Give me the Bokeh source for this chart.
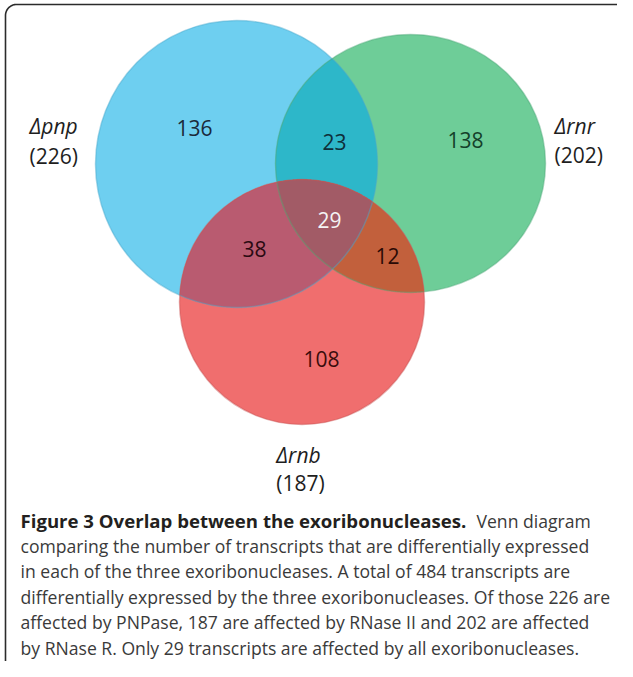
import numpy as np
from bokeh.plotting import figure
from bokeh.models import Range1d
from bokeh.embed import file_html
from bokeh.resources import INLINE
from bokeh.core.properties import value

# ---------------- data ----------------
set_names = ["Δpnp", "Δrnr", "Δrnb"]
set_totals = [226, 202, 187]
# regions: members as indices into set_names, with their counts
region_members = [(0,), (1,), (2,), (0, 1), (0, 2), (1, 2), (0, 1, 2)]
region_counts = [136, 138, 108, 23, 38, 12, 29]

# ---------------- layout / style ----------------
circle_cx = [244, 418, 309.5]
circle_cy = [171.5, 171, 309.5]
circle_w = [282, 270, 245]
circle_h = [287, 258, 245]
set_colors = ["#6ECFF0", "#6ECD98", "#F06E6E"]
edge_colors = ["#4AA9CC", "#4FA97A", "#C85555"]
overlap_colors = {(0, 1): "#2DB7C9", (0, 2): "#B95B70", (1, 2): "#C2603C", (0, 1, 2): "#A25B66"}

region_lx = [202, 473, 329, 342, 262, 395, 337]
region_ly = [135, 147, 366, 149, 256, 263, 227]
region_tc = ["#1B2A3A", "#14402A", "#3A0C0C", "#0E2F3A", "#2A0A12", "#2A0A05", "#F4F4F4"]

name_x = [37, 562, 306]
name_y = [133, 133, 462]
total_x = [37, 562, 308]
total_y = [163, 162, 490]
name_align = ["left", "left", "center"]

FONT = value("Open Sans")

total_all = sum(region_counts)
caption_bold = "Figure 3 Overlap between the exoribonucleases."
caption_lines = [
    "Venn diagram",
    "comparing the number of transcripts that are differentially expressed",
    f"in each of the three exoribonucleases. A total of {total_all} transcripts are",
    f"differentially expressed by the three exoribonucleases. Of those {set_totals[0]} are",
    f"affected by PNPase, {set_totals[2]} are affected by RNase II and {set_totals[1]} are affected",
    f"by RNase R. Only {region_counts[6]} transcripts are affected by all exoribonucleases.",
]
caption_x = [484, 28, 28, 28, 28, 28]
caption_y = [528, 553.4, 578.8, 604.2, 629.6, 655]


def ellipse_pts(i, n=1440):
    t = np.linspace(0, 2 * np.pi, n, endpoint=False)
    return (circle_cx[i] + circle_w[i] / 2 * np.cos(t),
            circle_cy[i] + circle_h[i] / 2 * np.sin(t))


def inside(x, y, j):
    return ((x - circle_cx[j]) / (circle_w[j] / 2)) ** 2 + ((y - circle_cy[j]) / (circle_h[j] / 2)) ** 2 <= 1.0


def intersection(ids):
    xs, ys = [], []
    for i in ids:
        ex, ey = ellipse_pts(i)
        m = np.ones_like(ex, dtype=bool)
        for j in ids:
            if j != i:
                m &= inside(ex, ey, j)
        xs.append(ex[m])
        ys.append(ey[m])
    X = np.concatenate(xs)
    Y = np.concatenate(ys)
    cx, cy = X.mean(), Y.mean()
    o = np.argsort(np.arctan2(Y - cy, X - cx))
    return list(X[o]), list(Y[o])


p = figure(width=617, height=661, x_range=Range1d(8, 625), y_range=Range1d(669, 8),
           output_backend="svg", toolbar_location=None, min_border=0,
           x_axis_location=None, y_axis_location=None)
p.grid.visible = False
p.outline_line_color = None
p.background_fill_color = "white"
p.border_fill_color = "white"

# frame border (rounded top-left corner)
r = 11
t = np.linspace(0, np.pi / 2, 20)
bx = [13] + list(13 + r - r * np.cos(t)) + [640]
by = [700] + list(12 + r - r * np.sin(t)) + [12]
p.line(bx, by, line_color="#2b2b2b", line_width=1.6)

# base sets
p.ellipse(x=circle_cx, y=circle_cy, width=circle_w, height=circle_h,
          fill_color=set_colors, line_color=None)

# overlaps
ov_xs, ov_ys, ov_c = [], [], []
for ids in [(0, 1), (0, 2), (1, 2), (0, 1, 2)]:
    X, Y = intersection(ids)
    ov_xs.append(X)
    ov_ys.append(Y)
    ov_c.append(overlap_colors[ids])
p.patches(ov_xs, ov_ys, fill_color=ov_c, line_color=None)

# soft edges
p.ellipse(x=circle_cx, y=circle_cy, width=circle_w, height=circle_h,
          fill_color=None, line_color=edge_colors, line_alpha=0.45, line_width=1.5)

# region counts
p.text(x=region_lx, y=region_ly, text=[str(c) for c in region_counts],
       text_font=FONT, text_font_size="21px", text_color=region_tc,
       text_align="center", text_baseline="middle")

# set names & totals
for i in range(3):
    p.text(x=[name_x[i]], y=[name_y[i]], text=[set_names[i]], text_font=FONT,
           text_font_size="21px", text_font_style="italic", text_color="#1e1e1e",
           text_align=name_align[i], text_baseline="middle")
    p.text(x=[total_x[i]], y=[total_y[i]], text=[f"({set_totals[i]})"], text_font=FONT,
           text_font_size="21px", text_color="#1e1e1e",
           text_align=name_align[i], text_baseline="middle")

# caption
p.text(x=[28], y=[caption_y[0]], text=[caption_bold], text_font=FONT,
       text_font_size="18.6px", text_font_style="bold", text_color="#231F20",
       text_align="left", text_baseline="middle")
p.text(x=caption_x, y=caption_y, text=caption_lines, text_font=FONT,
       text_font_size="17.6px", text_color="#3a3a3a",
       text_align="left", text_baseline="middle")

open("out.html", "w").write(file_html(p, INLINE))
